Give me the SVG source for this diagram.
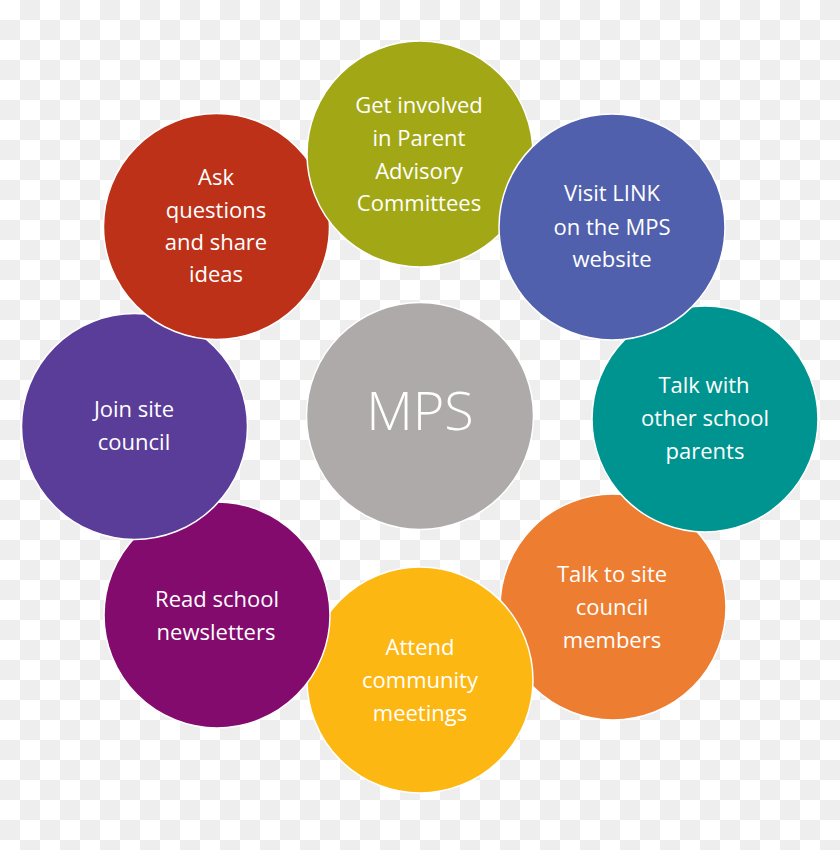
<svg xmlns="http://www.w3.org/2000/svg" width="840" height="850" viewBox="0 0 840 850">
<style>
.c{stroke:#fff;stroke-width:1.500}
text{font-family:"Open Sans","Noto Sans","Liberation Sans",sans-serif;font-size:22px;fill:#fff;text-anchor:middle}
.big{font-size:54px;font-weight:300}
</style>
<defs>
<pattern id="checker" width="40" height="40" patternUnits="userSpaceOnUse">
<rect width="40" height="40" fill="#fff"/>
<rect x="20" y="0" width="20" height="20" fill="#eee"/>
<rect x="0" y="20" width="20" height="20" fill="#eee"/>
</pattern>
</defs>
<rect width="840" height="850" fill="url(#checker)"/>
<g id="connectors"/>
<g id="center"><circle class="c" cx="420" cy="416" r="113.500" fill="#aeaaaa"/><text class="big" x="420" y="430">MPS</text></g>
<g id="n4"><circle class="c" cx="613" cy="607" r="113" fill="#ed7d31"/><text x="612" y="582">Talk to site</text><text x="612" y="615">council</text><text x="612" y="648">members</text></g>
<g id="n3"><circle class="c" cx="705" cy="419" r="113" fill="#009490"/><text x="704" y="393">Talk with</text><text x="705" y="426">other school</text><text x="705" y="459">parents</text></g>
<g id="n5"><circle class="c" cx="420" cy="680" r="113" fill="#fdb713"/><text x="420" y="655">Attend</text><text x="420" y="688">community</text><text x="420" y="721">meetings</text></g>
<g id="n6"><circle class="c" cx="217" cy="615" r="113" fill="#830b6e"/><text x="217" y="607">Read school</text><text x="216" y="640">newsletters</text></g>
<g id="n7"><circle class="c" cx="134.500" cy="426.500" r="113" fill="#5a3d98"/><text x="134" y="417">Join site</text><text x="134" y="450">council</text></g>
<g id="n8"><circle class="c" cx="216.500" cy="226.500" r="113" fill="#bd3118"/><text x="216" y="185">Ask</text><text x="216" y="218">questions</text><text x="216" y="250">and share</text><text x="216" y="282">ideas</text></g>
<g id="n1"><circle class="c" cx="420" cy="154" r="113" fill="#a2a815"/><text x="419" y="113">Get involved</text><text x="419" y="146">in Parent</text><text x="419" y="179">Advisory</text><text x="419" y="211">Committees</text></g>
<g id="n2"><circle class="c" cx="612" cy="227" r="113" fill="#5060ac"/><text x="612" y="201">Visit LINK</text><text x="612" y="235">on the MPS</text><text x="612" y="267">website</text></g>
</svg>
